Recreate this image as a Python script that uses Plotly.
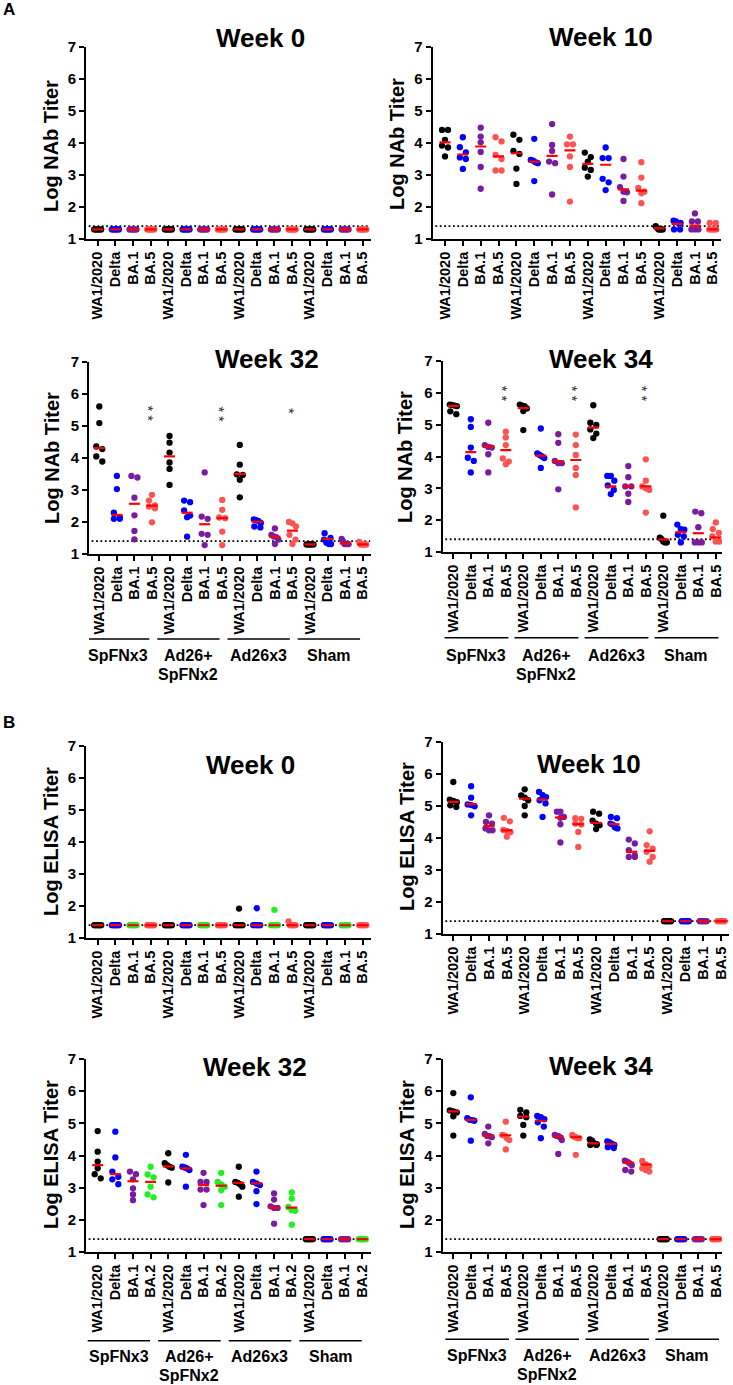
import plotly.graph_objects as go

W, H = 733, 1385

# ---------------- data ----------------
strains_std = ["WA1/2020", "Delta", "BA.1", "BA.5"]
strains_ba2 = ["WA1/2020", "Delta", "BA.1", "BA.2"]
group_names = ["SpFNx3", "Ad26+<br>SpFNx2", "Ad26x3", "Sham"]

nab_w0_values = [
    [1.3, 1.3, 1.3, 1.3, 1.3, 1.3], [1.3, 1.3, 1.3, 1.3, 1.3, 1.3],
    [1.3, 1.3, 1.3, 1.3, 1.3, 1.3], [1.3, 1.3, 1.3, 1.3, 1.3, 1.3],
    [1.3, 1.3, 1.3, 1.3, 1.3, 1.3], [1.3, 1.3, 1.3, 1.3, 1.3, 1.3],
    [1.3, 1.3, 1.3, 1.3, 1.3, 1.3], [1.3, 1.3, 1.3, 1.3, 1.3, 1.3],
    [1.3, 1.3, 1.3, 1.3, 1.3, 1.3], [1.3, 1.3, 1.3, 1.3, 1.3, 1.3],
    [1.3, 1.3, 1.3, 1.3, 1.3, 1.3], [1.3, 1.3, 1.3, 1.3, 1.3, 1.3],
    [1.3, 1.3, 1.3, 1.3, 1.3, 1.3], [1.3, 1.3, 1.3, 1.3, 1.3, 1.3],
    [1.3, 1.3, 1.3, 1.3, 1.3, 1.3], [1.3, 1.3, 1.3, 1.3, 1.3, 1.3],
]
nab_w0_medians = [1.3, 1.3, 1.3, 1.3, 1.3, 1.3, 1.3, 1.3,
                  1.3, 1.3, 1.3, 1.3, 1.3, 1.3, 1.3, 1.3]

nab_w10_values = [
    [4.41, 4.41, 4.10, 3.92, 3.86, 3.58],
    [4.18, 3.87, 3.71, 3.55, 3.50, 3.19],
    [4.48, 4.20, 4.02, 3.72, 3.25, 2.57],
    [4.18, 4.05, 3.63, 3.50, 3.14, 3.14],
    [4.26, 4.10, 3.75, 3.66, 3.20, 2.72],
    [4.13, 3.47, 3.45, 3.40, 3.37, 2.81],
    [4.59, 3.94, 3.75, 3.42, 3.37, 2.39],
    [4.20, 3.96, 3.96, 3.58, 3.25, 2.17],
    [3.70, 3.56, 3.42, 3.23, 3.16, 2.95],
    [3.86, 3.53, 3.53, 2.88, 2.77, 2.53],
    [3.50, 2.95, 2.62, 2.48, 2.46, 2.19],
    [3.40, 2.92, 2.60, 2.48, 2.43, 2.12],
    [1.40, 1.35, 1.30, 1.30, 1.30, 1.30],
    [1.57, 1.55, 1.50, 1.50, 1.30, 1.30],
    [1.80, 1.55, 1.55, 1.30, 1.30, 1.30],
    [1.50, 1.50, 1.30, 1.30, 1.30, 1.30],
]
nab_w10_medians = [4.02, 3.64, 3.89, 3.58, 3.68, 3.42, 3.60, 3.77,
                   3.35, 3.32, 2.55, 2.51, 1.33, 1.47, 1.42, 1.30]

nab_w32_values = [
    [5.61, 5.09, 4.36, 4.28, 4.05, 3.89],
    [3.44, 3.03, 2.29, 2.15, 2.10, 2.10],
    [3.44, 3.39, 2.76, 2.21, 1.72, 1.46],
    [2.85, 2.67, 2.52, 2.48, 2.43, 1.99],
    [4.69, 4.48, 4.17, 3.86, 3.66, 3.16],
    [2.67, 2.62, 2.36, 2.20, 2.15, 1.54],
    [3.55, 2.17, 2.10, 1.63, 1.60, 1.28],
    [2.69, 2.38, 2.14, 2.12, 1.70, 1.28],
    [4.41, 3.79, 3.49, 3.47, 3.32, 2.77],
    [2.08, 2.06, 2.03, 1.97, 1.86, 1.83],
    [1.80, 1.60, 1.55, 1.53, 1.45, 1.31],
    [2.00, 1.96, 1.86, 1.60, 1.45, 1.31],
    [1.30, 1.30, 1.30, 1.30, 1.30, 1.30],
    [1.65, 1.50, 1.45, 1.35, 1.31, 1.31],
    [1.47, 1.40, 1.31, 1.31, 1.31, 1.31],
    [1.38, 1.30, 1.30, 1.30, 1.30, 1.30],
]
nab_w32_medians = [4.31, 2.22, 2.57, 2.51, 4.05, 2.29, 1.93, 2.12,
                   3.50, 2.01, 1.54, 1.73, 1.30, 1.47, 1.33, 1.30]
nab_w32_sig = ["", "", "", "**", "", "", "", "**",
               "", "", "", "*", "", "", "", ""]

nab_w34_values = [
    [5.63, 5.62, 5.60, 5.58, 5.42, 5.33],
    [5.17, 4.93, 4.28, 3.96, 3.86, 3.50],
    [5.06, 4.36, 4.30, 4.28, 4.07, 3.50],
    [4.78, 4.60, 4.36, 3.94, 3.84, 3.76],
    [5.63, 5.60, 5.58, 5.51, 5.43, 4.83],
    [4.88, 4.10, 4.05, 4.00, 3.95, 3.64],
    [4.70, 4.43, 3.86, 3.79, 3.79, 2.97],
    [4.69, 4.36, 4.05, 3.64, 3.42, 2.40],
    [5.61, 5.06, 4.99, 4.85, 4.72, 4.58],
    [3.39, 3.39, 3.24, 3.09, 2.95, 2.82],
    [3.70, 3.35, 3.06, 3.06, 2.83, 2.57],
    [3.91, 3.24, 3.06, 3.00, 2.95, 2.24],
    [2.14, 1.45, 1.40, 1.33, 1.30, 1.30],
    [1.86, 1.72, 1.70, 1.54, 1.49, 1.30],
    [2.27, 2.22, 1.78, 1.30, 1.30, 1.30],
    [1.93, 1.72, 1.60, 1.49, 1.33, 1.33],
]
nab_w34_medians = [5.59, 4.14, 4.31, 4.20, 5.52, 4.03, 3.85, 3.89,
                   4.91, 3.06, 3.06, 3.06, 1.39, 1.62, 1.59, 1.46]
nab_w34_sig = ["", "", "", "**", "", "", "", "**",
               "", "", "", "**", "", "", "", ""]

elisa_w0_values = [
    [1.4, 1.4, 1.4, 1.4, 1.4, 1.4], [1.4, 1.4, 1.4, 1.4, 1.4, 1.4],
    [1.4, 1.4, 1.4, 1.4, 1.4, 1.4], [1.4, 1.4, 1.4, 1.4, 1.4, 1.4],
    [1.4, 1.4, 1.4, 1.4, 1.4, 1.4], [1.4, 1.4, 1.4, 1.4, 1.4, 1.4],
    [1.4, 1.4, 1.4, 1.4, 1.4, 1.4], [1.4, 1.4, 1.4, 1.4, 1.4, 1.4],
    [1.92, 1.4, 1.4, 1.4, 1.4, 1.4], [1.93, 1.4, 1.4, 1.4, 1.4, 1.4],
    [1.88, 1.4, 1.4, 1.4, 1.4, 1.4], [1.52, 1.4, 1.4, 1.4, 1.4, 1.4],
    [1.4, 1.4, 1.4, 1.4, 1.4, 1.4], [1.4, 1.4, 1.4, 1.4, 1.4, 1.4],
    [1.4, 1.4, 1.4, 1.4, 1.4, 1.4], [1.4, 1.4, 1.4, 1.4, 1.4, 1.4],
]
elisa_w0_medians = [1.4, 1.4, 1.4, 1.4, 1.4, 1.4, 1.4, 1.4,
                    1.4, 1.4, 1.4, 1.4, 1.4, 1.4, 1.4, 1.4]

elisa_w10_values = [
    [5.75, 5.20, 5.16, 5.12, 5.02, 4.97],
    [5.62, 5.26, 5.05, 5.03, 4.99, 4.71],
    [4.71, 4.50, 4.45, 4.30, 4.24, 4.24],
    [4.63, 4.52, 4.25, 4.22, 4.18, 4.04],
    [5.52, 5.33, 5.26, 5.18, 5.00, 4.71],
    [5.44, 5.34, 5.28, 5.18, 5.08, 4.66],
    [4.82, 4.82, 4.66, 4.63, 4.43, 3.86],
    [4.62, 4.60, 4.45, 4.42, 4.19, 3.72],
    [4.82, 4.76, 4.54, 4.45, 4.40, 4.28],
    [4.66, 4.62, 4.45, 4.42, 4.33, 4.30],
    [3.95, 3.83, 3.62, 3.46, 3.41, 3.41],
    [4.21, 3.78, 3.67, 3.57, 3.41, 3.26],
    [1.4, 1.4, 1.4, 1.4, 1.4, 1.4], [1.4, 1.4, 1.4, 1.4, 1.4, 1.4],
    [1.4, 1.4, 1.4, 1.4, 1.4, 1.4], [1.4, 1.4, 1.4, 1.4, 1.4, 1.4],
]
elisa_w10_medians = [5.13, 5.06, 4.37, 4.24, 5.23, 5.20, 4.64, 4.43,
                     4.47, 4.43, 3.57, 3.60, 1.4, 1.4, 1.4, 1.4]

elisa_w32_values = [
    [4.76, 4.12, 3.81, 3.60, 3.42, 3.29],
    [4.74, 3.94, 3.50, 3.34, 3.26, 3.11],
    [3.50, 3.42, 3.26, 2.98, 2.79, 2.61],
    [3.65, 3.41, 3.32, 3.03, 2.79, 2.70],
    [4.07, 3.76, 3.70, 3.65, 3.62, 3.16],
    [4.02, 3.65, 3.63, 3.60, 3.55, 3.03],
    [3.46, 3.18, 3.18, 2.94, 2.94, 2.46],
    [3.46, 3.18, 3.10, 3.03, 2.92, 2.46],
    [3.65, 3.18, 3.15, 3.11, 3.03, 2.72],
    [3.50, 3.18, 3.13, 3.08, 2.89, 2.49],
    [2.82, 2.63, 2.42, 2.37, 2.37, 1.88],
    [2.85, 2.66, 2.40, 2.30, 2.28, 1.85],
    [1.4, 1.4, 1.4, 1.4, 1.4, 1.4], [1.4, 1.4, 1.4, 1.4, 1.4, 1.4],
    [1.4, 1.4, 1.4, 1.4, 1.4, 1.4], [1.4, 1.4, 1.4, 1.4, 1.4, 1.4],
]
elisa_w32_medians = [3.70, 3.42, 3.20, 3.18, 3.66, 3.60, 3.08, 3.06,
                     3.15, 3.13, 2.38, 2.38, 1.4, 1.4, 1.4, 1.4]

elisa_w34_values = [
    [5.94, 5.40, 5.37, 5.34, 5.22, 4.62],
    [5.81, 5.16, 5.11, 5.10, 5.08, 4.46],
    [4.90, 4.67, 4.61, 4.60, 4.57, 4.38],
    [5.05, 4.64, 4.62, 4.54, 4.48, 4.19],
    [5.42, 5.34, 5.23, 5.19, 4.95, 4.62],
    [5.23, 5.19, 5.13, 5.03, 4.90, 4.54],
    [4.64, 4.61, 4.60, 4.57, 4.48, 4.05],
    [4.64, 4.59, 4.57, 4.54, 4.54, 4.02],
    [4.50, 4.46, 4.38, 4.35, 4.33, 4.33],
    [4.44, 4.41, 4.36, 4.33, 4.26, 4.23],
    [3.84, 3.81, 3.76, 3.70, 3.55, 3.50],
    [3.83, 3.72, 3.67, 3.60, 3.55, 3.50],
    [1.4, 1.4, 1.4, 1.4, 1.4, 1.4], [1.4, 1.4, 1.4, 1.4, 1.4, 1.4],
    [1.4, 1.4, 1.4, 1.4, 1.4, 1.4], [1.4, 1.4, 1.4, 1.4, 1.4, 1.4],
]
elisa_w34_medians = [5.37, 5.11, 4.61, 4.63, 5.21, 5.08, 4.59, 4.57,
                     4.38, 4.36, 3.78, 3.72, 1.4, 1.4, 1.4, 1.4]

lod_nab = 1.4
lod_elisa = 1.4

# ---------------- styles ----------------
BLACK = "#000000"
BLUE = "#0000FF"
PURPLE = "#7A1CA0"
SALMON = "#FF5252"
GREEN = "#22EE22"
MED_RED = "#FF0000"
colors_std = [BLACK, BLUE, PURPLE, SALMON]
colors_w0e = [BLACK, BLUE, GREEN, SALMON]
colors_w32e = [BLACK, BLUE, PURPLE, GREEN]

FONT = "Liberation Sans, Arial, Helvetica, sans-serif"

# box = (x_left, x_right, y_top(=7), y_bottom(=1)) in px; cat0 px of first category; sp = px per category
panels = [
    dict(vals=nab_w0_values, med=nab_w0_medians, strains=strains_std, colors=colors_std,
         lod=lod_nab, title="Week 0", ytitle="Log NAb Titer",
         box=(86, 371, 47, 239), cat0=97.7, sp=17.67, txy=(260, 38), yxy=(51, 146)),
    dict(vals=nab_w10_values, med=nab_w10_medians, strains=strains_std, colors=colors_std,
         lod=lod_nab, title="Week 10", ytitle="Log NAb Titer",
         box=(432.7, 721, 47, 239), cat0=445, sp=17.85, txy=(601, 37), yxy=(397, 144)),
    dict(vals=nab_w32_values, med=nab_w32_medians, strains=strains_std, colors=colors_std,
         lod=lod_nab, title="Week 32", ytitle="Log NAb Titer",
         box=(89, 371, 362, 554), cat0=99.3, sp=17.56, txy=(267, 359), yxy=(52, 458),
         groups=(639, 655, -0.70, 2.85), sig=nab_w32_sig, sigc=(5.375, 5.47)),
    dict(vals=nab_w34_values, med=nab_w34_medians, strains=strains_std, colors=colors_std,
         lod=lod_nab, title="Week 34", ytitle="Log NAb Titer",
         box=(442.7, 722, 361, 552), cat0=453.3, sp=17.5, txy=(601, 359), yxy=(405, 457),
         groups=(637.7, 655, -0.50, 3.15), sig=nab_w34_sig, sigc=(5.965, 6.09)),
    dict(vals=elisa_w0_values, med=elisa_w0_medians, strains=strains_std, colors=colors_w0e,
         lod=lod_elisa, title="Week 0", ytitle="Log ELISA Titer",
         box=(86, 371, 746, 938), cat0=97.7, sp=17.67, txy=(250, 765), yxy=(51, 842)),
    dict(vals=elisa_w10_values, med=elisa_w10_medians, strains=strains_std, colors=colors_std,
         lod=lod_elisa, title="Week 10", ytitle="Log ELISA Titer",
         box=(442.7, 729, 742, 934), cat0=453.3, sp=17.85, txy=(589, 764), yxy=(407, 837)),
    dict(vals=elisa_w32_values, med=elisa_w32_medians, strains=strains_ba2, colors=colors_w32e,
         lod=lod_elisa, title="Week 32", ytitle="Log ELISA Titer",
         box=(86, 371, 1059, 1252), cat0=97.7, sp=17.64, txy=(255, 1067), yxy=(51, 1155),
         groups=(1340.7, 1356, -0.57, 2.97)),
    dict(vals=elisa_w34_values, med=elisa_w34_medians, strains=strains_std, colors=colors_std,
         lod=lod_elisa, title="Week 34", ytitle="Log ELISA Titer",
         box=(442.7, 722, 1059, 1252), cat0=453.3, sp=17.5, txy=(601, 1066), yxy=(407, 1155),
         groups=(1339.3, 1355, -0.45, 3.18)),
]


def swarm(vals, py, d=6.0, maxhalf=3.5):
    """Prism-like horizontal spreading of points that overlap vertically (px offsets)."""
    order = sorted(range(len(vals)), key=lambda i: -vals[i])
    rows = []
    for i in order:
        if rows and (vals[rows[-1][0]] - vals[i]) * py < d * 0.9:
            rows[-1].append(i)
        else:
            rows.append([i])
    off = [0.0] * len(vals)
    for r in rows:
        n = len(r)
        if n == 1:
            continue
        step = min(d, 2 * maxhalf / (n - 1))
        for k, i in enumerate(r):
            off[i] = (k - (n - 1) / 2) * step
    return off


def px(xp):
    return xp / W


def py_(yp):
    return 1 - yp / H


fig = go.Figure()
annotations = []
shapes = []
layout = {}

for idx, p in enumerate(panels):
    n = idx + 1
    xa = "x" if n == 1 else f"x{n}"
    ya = "y" if n == 1 else f"y{n}"
    xl, xr, yt, yb = p["box"]
    sp = p["sp"]
    cat0 = p["cat0"]
    ppu = (yb - yt) / 6.0
    r0 = (xl - cat0) / sp
    r1 = (xr - cat0) / sp
    ncat = len(p["vals"])
    ticktext = [p["strains"][c % 4] for c in range(ncat)]

    # LOD dotted line
    fig.add_trace(go.Scatter(
        x=[r0 + 0.15, r1 - 0.05], y=[p["lod"], p["lod"]], xaxis=xa, yaxis=ya,
        mode="lines", line=dict(color="black", width=1.8, dash="1.8px,2.6px"),
        hoverinfo="skip", showlegend=False))

    # points
    for c, vals in enumerate(p["vals"]):
        offs = swarm(vals, ppu)
        fig.add_trace(go.Scatter(
            x=[c + o / sp for o in offs], y=vals, xaxis=xa, yaxis=ya,
            mode="markers",
            marker=dict(color=p["colors"][c % 4], size=6.3, line=dict(width=0)),
            showlegend=False, hoverinfo="y"))

    # median bars
    mx, my = [], []
    hw = 5.5 / sp
    for c, m in enumerate(p["med"]):
        mx += [c - hw, c + hw, None]
        my += [m, m, None]
    fig.add_trace(go.Scatter(
        x=mx, y=my, xaxis=xa, yaxis=ya, mode="lines",
        line=dict(color=MED_RED, width=2.2), showlegend=False, hoverinfo="skip"))

    layout["xaxis" if n == 1 else f"xaxis{n}"] = dict(
        domain=[px(xl), px(xr)], anchor=ya, range=[r0, r1],
        tickmode="array", tickvals=list(range(ncat)), ticktext=ticktext,
        tickangle=-90, ticks="outside", ticklen=5, tickwidth=1.5, tickcolor="black",
        showline=True, linewidth=2, linecolor="black",
        showgrid=False, zeroline=False, automargin=False, fixedrange=True,
        tickfont=dict(family=FONT, size=14.5, color="black", weight="bold"))
    layout["yaxis" if n == 1 else f"yaxis{n}"] = dict(
        domain=[py_(yb), py_(yt)], anchor=xa, range=[1, 7],
        tickmode="array", tickvals=[1, 2, 3, 4, 5, 6, 7],
        ticks="outside", ticklen=5, tickwidth=2, tickcolor="black",
        showline=True, linewidth=2, linecolor="black",
        showgrid=False, zeroline=False, automargin=False, fixedrange=True,
        tickfont=dict(family=FONT, size=15, color="black", weight="bold"))

    # panel title
    annotations.append(dict(
        text=p["title"], xref="paper", yref="paper", x=px(p["txy"][0]), y=py_(p["txy"][1]),
        xanchor="center", yanchor="middle", showarrow=False,
        font=dict(family=FONT, size=26, color="black", weight="bold")))
    # y title
    annotations.append(dict(
        text=p["ytitle"], xref="paper", yref="paper", x=px(p["yxy"][0]), y=py_(p["yxy"][1]),
        xanchor="center", yanchor="middle", showarrow=False, textangle=-90,
        font=dict(family=FONT, size=20, color="black", weight="bold")))

    # group brackets
    if p.get("groups"):
        ly, ty, g0, g1 = p["groups"]
        for g, gname in enumerate(group_names):
            a, b = 4 * g + g0, 4 * g + g1
            shapes.append(dict(type="line", xref=xa, yref="paper",
                               x0=a, x1=b, y0=py_(ly), y1=py_(ly),
                               line=dict(color="black", width=1.5)))
            for li, line_txt in enumerate(gname.split("<br>")):
                annotations.append(dict(
                    text=line_txt, xref=xa, yref="paper", x=(a + b) / 2, y=py_(ty + 19 * li),
                    xanchor="center", yanchor="middle", showarrow=False,
                    font=dict(family=FONT, size=16, color="black", weight="bold")))

    # significance asterisks (stacked: text rotated so the marks sit one above the other)
    if p.get("sig"):
        y_double, y_single = p["sigc"]
        for c, s in enumerate(p["sig"]):
            if not s:
                continue
            txt = " ".join(list(s))
            annotations.append(dict(
                text=txt, xref=xa, yref=ya, x=c,
                y=y_double if len(s) == 2 else y_single,
                xanchor="center", yanchor="middle", showarrow=False,
                textangle=90, xshift=-3.6,
                font=dict(family=FONT, size=14.5, color="#2a2a2a")))

# panel letters
for letter, (lx, ly) in [("A", (9, 10)), ("B", (9, 722))]:
    annotations.append(dict(
        text=letter, xref="paper", yref="paper", x=px(lx), y=py_(ly),
        xanchor="center", yanchor="middle", showarrow=False,
        font=dict(family=FONT, size=17, color="black", weight="bold")))

fig.update_layout(
    width=W, height=H, margin=dict(l=0, r=0, t=0, b=0),
    paper_bgcolor="white", plot_bgcolor="white",
    showlegend=False, annotations=annotations, shapes=shapes,
    font=dict(family=FONT, color="black"),
    **layout)

fig.write_html("out.html", config={"displayModeBar": False},
               post_script="document.body.style.margin='0';")
